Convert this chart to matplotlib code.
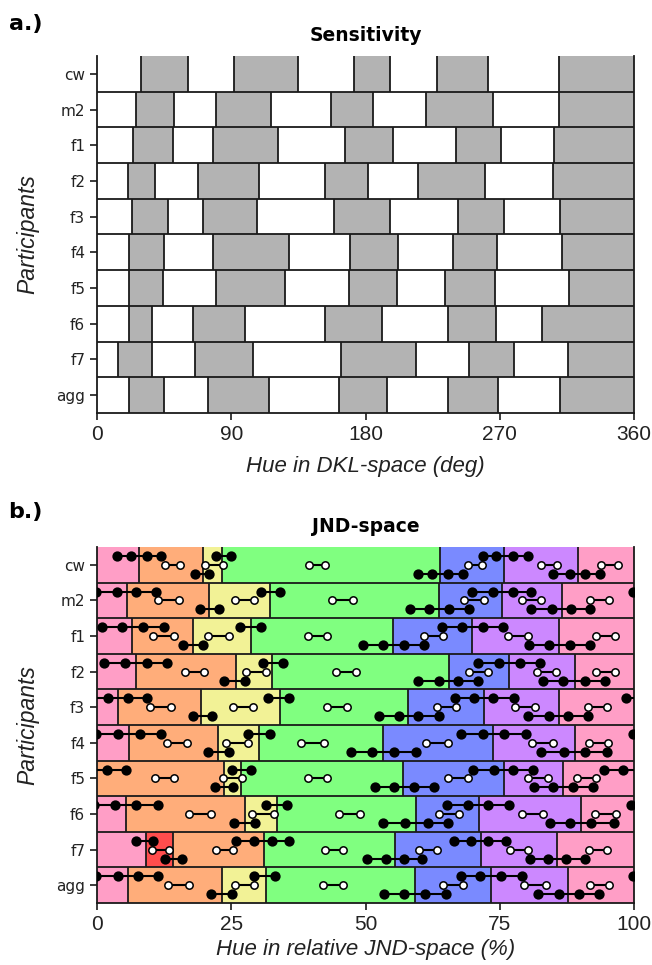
import matplotlib.pyplot as plt
import numpy as np

participants = ['cw', 'm2', 'f1', 'f2', 'f3', 'f4', 'f5', 'f6', 'f7', 'agg']

# boundaries (deg) between alternating white / grey bands, panel a
dkl_edges = [
    [29.3, 61.2, 91.6, 134.5, 172.3, 196.4, 228.1, 262.3, 309.9],
    [25.9, 51.6, 79.8, 116.4, 157.1, 185.2, 220.4, 265.7, 309.7],
    [23.9, 50.7, 77.8, 121.5, 166.3, 198.6, 240.7, 271.0, 306.4],
    [20.6, 38.9, 67.9, 108.8, 153.1, 182.0, 215.0, 260.3, 305.5],
    [23.7, 47.6, 71.3, 107.3, 159.1, 196.6, 241.8, 273.0, 310.6],
    [21.7, 44.9, 77.6, 128.9, 169.6, 202.0, 238.5, 268.4, 311.7],
    [21.7, 44.4, 79.8, 126.0, 168.9, 200.9, 233.3, 266.6, 316.6],
    [21.7, 36.7, 64.6, 99.0, 152.8, 191.3, 235.3, 267.7, 298.5],
    [14.3, 36.7, 65.9, 104.4, 163.4, 213.8, 249.4, 279.6, 316.0],
    [21.7, 45.1, 74.4, 115.1, 162.4, 194.6, 235.5, 268.8, 310.6],
]

# boundaries (%) between colour categories, panel b
jnd_edges = [
    [7.9, 19.8, 23.3, 63.9, 75.8, 89.6],
    [5.5, 20.9, 32.3, 63.6, 75.5, 86.6],
    [6.6, 17.9, 28.7, 55.2, 69.8, 86.0],
    [7.2, 25.8, 32.6, 65.5, 76.7, 89.0],
    [4.0, 19.4, 34.1, 58.0, 72.1, 86.0],
    [6.0, 22.5, 30.2, 53.2, 73.8, 89.0],
    [23.6, 26.9, 57.0, 75.8, 86.8],
    [5.4, 27.6, 33.5, 59.4, 71.1, 90.1],
    [9.1, 14.1, 31.1, 55.5, 71.5, 85.7],
    [5.7, 23.3, 31.4, 59.2, 73.4, 87.8],
]
std_seq = ['pink', 'orange', 'yellow', 'green', 'blue', 'purple', 'pink']
jnd_colors = [std_seq] * 6 + [
    ['orange', 'yellow', 'green', 'blue', 'purple', 'pink'],
    std_seq,
    ['pink', 'red', 'orange', 'green', 'blue', 'purple', 'pink'],
    std_seq,
]
palette = {'pink': '#ff9ec6', 'orange': '#ffad7a', 'yellow': '#f2f296',
           'green': '#80ff80', 'blue': '#7a8aff', 'purple': '#cc88ff',
           'red': '#ff4d4d'}

# marker chains in panel b (upper filled, middle open, lower filled)
top_chains = [
    [[3.7, 6.3, 9.4, 11.9], [22.2, 24.9], [71.8, 74.3, 77.4, 80.2]],
    [[-0.2, 3.7, 7.3, 10.9], [30.5, 34.1], [69.9, 73.7, 77.4, 80.9]],
    [[0.9, 4.6, 8.5, 12.4], [26.6, 30.5], [64.2, 68.0, 71.8, 75.6]],
    [[1.3, 5.2, 9.3, 13.0], [30.9, 34.6], [71.0, 74.8, 78.7, 82.5]],
    [[-1.5, 2.1, 5.8, 9.4], [31.9, 35.8], [66.7, 70.2, 73.8, 77.7]],
    [[-0.2, 4.0, 8.0, 11.9], [28.2, 32.2], [67.8, 71.8, 75.8, 79.8]],
    [[94.5, 98.0, 101.8, 105.4], [25.1, 28.7], [70.1, 74.0, 77.5, 81.1]],
    [[-0.6, 3.4, 7.3, 11.3], [31.4, 35.3], [65.1, 69.0, 72.9, 76.7]],
    [[7.2, 10.5], [25.9, 29.3, 32.5, 35.8], [66.4, 69.6, 72.9, 76.1]],
    [[-0.1, 4.0, 7.6, 11.4], [29.3, 33.2], [67.8, 71.3, 75.2, 79.1]],
]
open_pairs = [
    [[12.7, 15.5], [20.2, 23.4], [39.4, 42.5], [69.0, 71.7], [82.6, 85.6], [93.9, 97.0]],
    [[11.4, 15.3], [25.7, 29.2], [43.8, 47.6], [68.4, 72.0], [79.2, 82.7], [91.8, 95.4]],
    [[10.5, 14.4], [20.7, 24.5], [39.2, 42.9], [60.9, 64.5], [76.5, 80.3], [92.9, 96.5]],
    [[16.3, 20.0], [27.8, 31.5], [44.5, 48.2], [69.3, 72.9], [81.9, 85.5], [92.9, 96.5]],
    [[9.9, 13.7], [25.4, 29.0], [42.8, 46.6], [63.4, 66.9], [77.9, 81.5], [91.4, 94.9]],
    [[13.0, 16.7], [24.0, 28.1], [37.9, 42.2], [61.3, 65.4], [81.0, 85.0], [91.7, 95.2]],
    [[10.8, 14.4], [23.4, 27.0], [39.2, 42.8], [65.4, 69.0], [80.3, 83.9], [89.3, 92.9]],
    [[17.2, 21.2], [28.9, 32.9], [45.1, 49.0], [63.6, 67.4], [79.1, 83.0], [92.8, 96.7]],
    [[10.2, 13.5], [22.1, 25.4], [42.5, 45.8], [60.0, 63.3], [76.9, 80.3], [91.7, 94.9]],
    [[13.2, 17.1], [25.7, 29.3], [42.0, 45.8], [64.5, 68.1], [79.6, 83.6], [91.8, 95.4]],
]
bottom_chains = [
    [[18.3, 20.9], [59.8, 62.4, 65.4, 68.2], [85.0, 88.1, 90.9, 93.7]],
    [[19.1, 22.8], [58.3, 61.9, 65.6, 69.3], [80.8, 84.7, 88.3, 91.8]],
    [[16.0, 19.8], [49.6, 53.2, 57.1, 60.9], [80.5, 84.2, 88.1, 91.8]],
    [[23.7, 27.5], [59.7, 63.6, 67.2, 71.0], [83.0, 86.7, 90.9, 94.6]],
    [[17.8, 21.4], [52.6, 56.2, 59.8, 63.7], [80.3, 84.1, 87.8, 91.5]],
    [[20.6, 24.6], [47.3, 51.2, 55.3, 59.4], [82.7, 86.9, 90.9, 94.9]],
    [[21.9, 25.4], [51.7, 55.3, 59.0, 62.8], [81.3, 85.0, 88.6, 92.3]],
    [[25.6, 29.4], [53.3, 57.4, 61.6, 65.4], [84.3, 88.0, 92.0, 96.2]],
    [[12.7, 15.9], [50.3, 53.8, 57.2, 60.6], [80.7, 83.9, 87.4, 90.8]],
    [[21.2, 25.2], [53.5, 57.1, 61.0, 65.0], [82.2, 86.1, 89.8, 93.5]],
]

line_col = '#1a1a1a'
sans = ['Liberation Sans', 'DejaVu Sans']


def draw_rows(ax, edges, colors, xmax):
    for i, (e, c) in enumerate(zip(edges, colors)):
        b = np.array([0] + e + [xmax])
        ax.barh(i, np.diff(b), left=b[:-1], height=1.0, color=c,
                edgecolor='none', zorder=1)
        ax.vlines(e, i - 0.5, i + 0.5, color=line_col, lw=1.3, zorder=2)
    ax.hlines(np.arange(len(edges) - 1) + 0.5, 0, xmax, color=line_col,
              lw=1.3, zorder=2)


def style_axes(ax, xmax, xticks, xlabel, title, xpad):
    ax.set_xlim(0, xmax)
    ax.set_ylim(len(participants) - 0.5, -0.5)
    ax.set_yticks(range(len(participants)))
    ax.set_yticklabels(participants, fontsize=11, family='DejaVu Sans',
                       color='#222222')
    ax.set_xticks(xticks)
    ax.set_xticklabels([str(t) for t in xticks], fontsize=15, family=sans,
                       color='#222222')
    ax.tick_params(direction='out', length=5, width=1.2, color=line_col)
    ax.tick_params(axis='x', pad=4)
    ax.spines['top'].set_visible(False)
    for s in ['left', 'bottom', 'right']:
        ax.spines[s].set_linewidth(1.3)
        ax.spines[s].set_color(line_col)
    ax.set_xlabel(xlabel, fontsize=16, style='italic', family=sans,
                  labelpad=xpad, color='#222222')
    ax.set_ylabel('Participants', fontsize=16.5, style='italic', family=sans,
                  labelpad=12, color='#222222')
    ax.set_title(title, fontsize=13.5, fontweight='bold', pad=11)


def draw_chain(ax, xs, y, face):
    xs = np.array(xs)
    shifts = [0]
    if xs.min() < 0:
        shifts.append(100)
    if xs.max() > 100:
        shifts.append(-100)
    for s in shifts:
        ax.plot(xs + s, [y] * len(xs), '-', color='black', lw=1.5,
                marker='o', ms=6.3 if face == 'black' else 5.3,
                mfc=face, mec='black', mew=1.1, zorder=3)


fig = plt.figure(figsize=(6.52, 9.65), dpi=100)
ax1 = fig.add_axes([97 / 652, 1 - 413 / 965, 537 / 652, 357 / 965])
ax2 = fig.add_axes([97 / 652, 1 - 903 / 965, 537 / 652, 356 / 965])

grey_cols = [['white', '#b3b3b3'] * 5] * len(participants)
draw_rows(ax1, dkl_edges, grey_cols, 360)
style_axes(ax1, 360, [0, 90, 180, 270, 360], 'Hue in DKL-space (deg)',
           'Sensitivity', 8)

draw_rows(ax2, jnd_edges, [[palette[c] for c in row] for row in jnd_colors], 100)
for i in range(len(participants)):
    for ch in top_chains[i]:
        draw_chain(ax2, ch, i - 0.25, 'black')
    for ch in open_pairs[i]:
        draw_chain(ax2, ch, i, 'white')
    for ch in bottom_chains[i]:
        draw_chain(ax2, ch, i + 0.25, 'black')
style_axes(ax2, 100, [0, 25, 50, 75, 100], 'Hue in relative JND-space (%)',
           'JND-space', 3)

fig.text(9 / 652, 1 - 30 / 965, 'a.)', fontsize=16, fontweight='bold')
fig.text(8 / 652, 1 - 518 / 965, 'b.)', fontsize=16, fontweight='bold')

fig.savefig('out.png', dpi=100)
